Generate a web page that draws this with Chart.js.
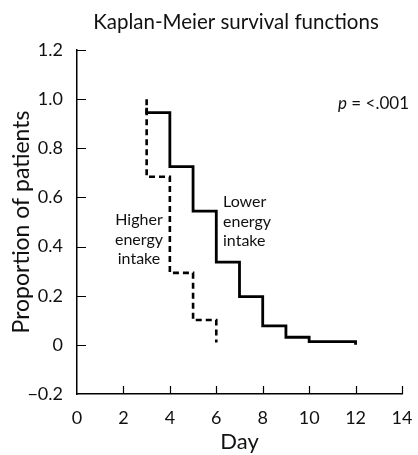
<!DOCTYPE html>
<html>
<head>
<meta charset="utf-8">
<script src="https://cdn.jsdelivr.net/npm/chart.js@4.4.1/dist/chart.umd.min.js"></script>
<style>
  html, body { margin: 0; padding: 0; background: #fff; }
  #wrap { width: 418px; height: 455px; }
</style>
</head>
<body>
<div id="wrap"><canvas id="kmChart" width="418" height="455"></canvas></div>
<script>
"use strict";

// Kaplan-Meier step points (day, proportion)
const lowerDays = [3, 3, 4, 5, 6, 7, 8, 9, 10, 12];
const lowerSurv = [0.965, 0.945, 0.725, 0.544, 0.337, 0.196, 0.077, 0.031, 0.013, 0.0];

const higherDays = [3, 3, 4, 5, 6];
const higherSurv = [1.0, 0.684, 0.293, 0.101, 0.01];

const xTicks = [0, 2, 4, 6, 8, 10, 12, 14];
const yTicks = [-0.2, 0, 0.2, 0.4, 0.6, 0.8, 1.0, 1.2];
const yTickLabels = ["\u22120.2", "0", "0.2", "0.4", "0.6", "0.8", "1.0", "1.2"];

const FONT = "Lato, 'Noto Sans', sans-serif";

function toPoints(days, surv) {
    return days.map((d, i) => ({ x: d, y: surv[i] }));
}

// inward tick marks + text annotations
const decorations = {
    id: "decorations",
    afterDraw(chart) {
        const ctx = chart.ctx;
        const xs = chart.scales.x;
        const ys = chart.scales.y;
        const area = chart.chartArea;

        ctx.save();
        ctx.strokeStyle = "#000";
        ctx.lineWidth = 1.2;
        ctx.beginPath();
        xTicks.forEach(t => {
            if (t === 0) return;
            const px = Math.round(xs.getPixelForValue(t)) + 0.5;
            ctx.moveTo(px, area.bottom);
            ctx.lineTo(px, area.bottom - 8);
        });
        yTicks.forEach(t => {
            if (t === -0.2) return;
            const py = Math.round(ys.getPixelForValue(t)) + 0.5;
            ctx.moveTo(area.left, py);
            ctx.lineTo(area.left + 9, py);
        });
        ctx.stroke();

        ctx.fillStyle = "#111";
        ctx.textBaseline = "middle";

        // title
        ctx.font = "20.5px " + FONT;
        ctx.textAlign = "center";
        ctx.fillText("Kaplan-Meier survival functions", 236, 22);

        // curve labels
        ctx.font = "16px " + FONT;
        ["Higher", "energy", "intake"].forEach((s, i) => {
            ctx.fillText(s, 139, 220 + i * 19.5);
        });
        ctx.textAlign = "left";
        ["Lower", "energy", "intake"].forEach((s, i) => {
            ctx.fillText(s, 223, 202 + i * 19.5);
        });

        // p value
        ctx.font = "italic 17px " + FONT;
        ctx.fillText("p", 338, 104);
        const pw = ctx.measureText("p").width;
        ctx.font = "17px " + FONT;
        ctx.fillText(" = <.001", 338 + pw, 104);
        ctx.restore();
    }
};

new Chart(document.getElementById("kmChart").getContext("2d"), {
    type: "line",
    data: {
        datasets: [{
            label: "Lower energy intake",
            data: toPoints(lowerDays, lowerSurv),
            borderColor: "#000",
            borderWidth: 2.8,
            stepped: true,
            pointRadius: 0,
            fill: false
        }, {
            label: "Higher energy intake",
            data: toPoints(higherDays, higherSurv),
            borderColor: "#000",
            borderWidth: 2.6,
            borderDash: [6, 4],
            stepped: true,
            pointRadius: 0,
            fill: false
        }]
    },
    options: {
        responsive: false,
        animation: false,
        layout: { padding: { top: 50, right: 16, left: 0, bottom: 0 } },
        plugins: {
            legend: { display: false },
            tooltip: { enabled: false }
        },
        scales: {
            x: {
                type: "linear",
                min: 0,
                max: 14,
                afterBuildTicks: s => { s.ticks = xTicks.map(v => ({ value: v })); },
                afterFit: s => { s.height = 61; },
                grid: { display: false },
                border: { display: true, color: "#000", width: 1.5 },
                ticks: {
                    color: "#111",
                    font: { family: FONT, size: 18 },
                    padding: 5,
                    maxRotation: 0
                },
                title: {
                    display: true,
                    text: "Day",
                    color: "#111",
                    font: { family: FONT, size: 22 },
                    padding: { top: 1, bottom: 0 }
                }
            },
            y: {
                min: -0.2,
                max: 1.2,
                afterBuildTicks: s => { s.ticks = yTicks.map(v => ({ value: v })); },
                afterFit: s => { s.width = 77; },
                grid: { display: false },
                border: { display: true, color: "#000", width: 1.5 },
                ticks: {
                    color: "#111",
                    font: { family: FONT, size: 18 },
                    padding: 6,
                    callback: (v, i) => yTickLabels[i]
                },
                title: {
                    display: true,
                    text: "Proportion of patients",
                    color: "#111",
                    font: { family: FONT, size: 23 },
                    padding: { top: 8, bottom: 0 }
                }
            }
        }
    },
    plugins: [decorations]
});
</script>
</body>
</html>
